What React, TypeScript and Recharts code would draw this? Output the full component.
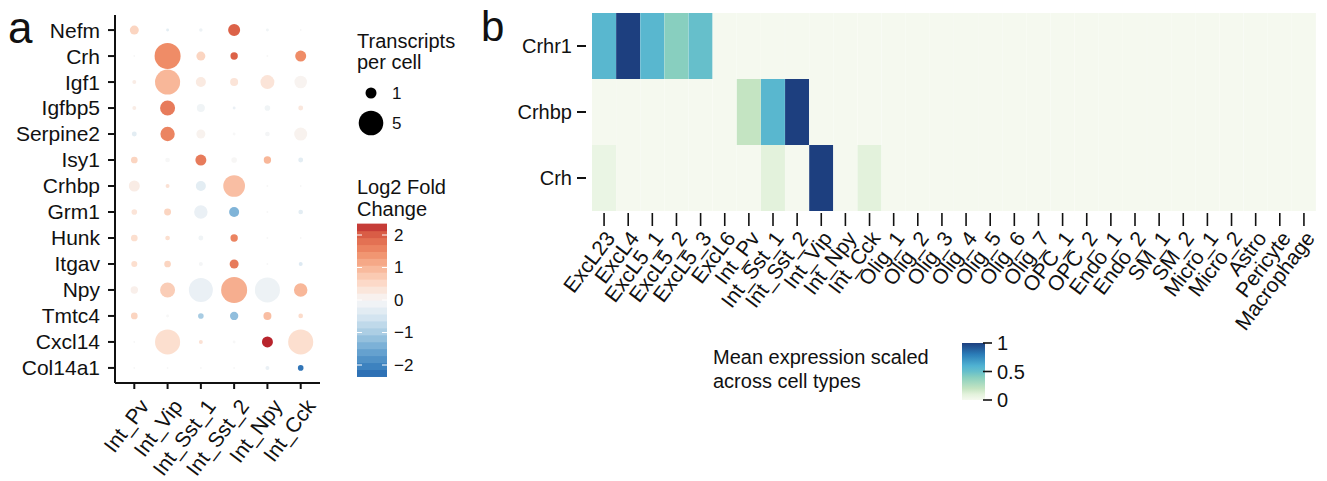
import React from "react";
import { ScatterChart, Scatter, XAxis, YAxis, ZAxis, Cell, BarChart, Bar } from "recharts";

// panel a: dot plot
const genes = ["Nefm", "Crh", "Igf1", "Igfbp5", "Serpine2", "Isy1", "Crhbp", "Grm1", "Hunk", "Itgav", "Npy", "Tmtc4", "Cxcl14", "Col14a1"];
const interneurons = ["Int_Pv", "Int_Vip", "Int_Sst_1", "Int_Sst_2", "Int_Npy", "Int_Cck"];

// transcripts per cell (dot size), rows follow genes, columns follow interneurons
const transcripts = [
  [0.67, 0.07, 0.1, 1.2, 0.07, 0.03],
  [0.03, 5.6, 0.67, 0.45, 0.03, 1.0],
  [0.13, 5.2, 0.83, 0.53, 1.6, 1.3],
  [0.13, 1.86, 0.53, 0.07, 0.26, 0.2],
  [0.2, 1.7, 0.67, 0.07, 0.18, 1.4],
  [0.37, 0.18, 1.0, 0.26, 0.45, 0.2],
  [1.0, 0.13, 0.83, 3.9, 0.03, 0.03],
  [0.26, 0.4, 1.5, 0.83, 0.03, 0.18],
  [0.37, 0.18, 0.2, 0.45, 0.03, 0.03],
  [0.3, 0.37, 0.13, 0.67, 0.03, 0.13],
  [0.45, 1.86, 4.76, 5.6, 5.2, 1.5],
  [0.37, 0.07, 0.26, 0.57, 0.53, 0.18],
  [0.03, 5.2, 0.13, 0.07, 1.0, 5.2],
  [0.03, 0.03, 0.03, 0.03, 0.13, 0.26],
];

// log2 fold change (dot colour)
const log2fc = [
  [0.6, -0.3, -0.15, 2.0, -0.1, 0],
  [0, 1.5, 0.6, 2.0, 0, 1.5],
  [0.2, 1.0, 0.25, 0.35, 0.35, 0.08],
  [0.2, 1.7, -0.1, -0.2, -0.1, 0.3],
  [-0.3, 1.6, 0.1, 0, -0.05, 0.1],
  [0.6, 0, 1.7, 0.02, 1.0, -0.3],
  [0.2, 0.4, -0.3, 0.9, 0, 0],
  [0.35, 0.6, -0.2, -1.35, 0, -0.3],
  [0.45, 0.45, -0.1, 1.6, 0, 0],
  [0.45, 0.6, -0.05, 1.7, 0, -0.4],
  [0.15, 0.7, -0.2, 1.1, -0.15, 1.0],
  [0.6, 0, -1.0, -1.2, 0.9, 0.5],
  [0, 0.45, 0.4, 0, 2.4, 0.45],
  [0, 0, 0, 0, -0.2, -2.2],
];

const sizeLegend = [1, 5];
const lfcTicks = [2, 1, 0, -1, -2];

// panel b: heatmap
const cellTypes = [
  "ExcL23", "ExcL4", "ExcL5_1", "ExcL5_2", "ExcL5_3", "ExcL6",
  "Int_Pv", "Int_Sst_1", "Int_Sst_2", "Int_Vip", "Int_Npy", "Int_Cck",
  "Olig_1", "Olig_2", "Olig_3", "Olig_4", "Olig_5", "Olig_6", "Olig_7",
  "OPC_1", "OPC_2", "Endo_1", "Endo_2", "SM_1", "SM_2",
  "Micro_1", "Micro_2", "Astro", "Pericyte", "Macrophage",
];
const heatGenes = ["Crhr1", "Crhbp", "Crh"];
const crhr1 = [0.56, 1, 0.56, 0.4, 0.5, 0, 0, 0, 0, 0, 0, 0, 0, 0, 0, 0, 0, 0, 0, 0, 0, 0, 0, 0, 0, 0, 0, 0, 0, 0];
const crhbp = [0, 0, 0, 0, 0, 0, 0.2, 0.56, 1, 0, 0, 0, 0, 0, 0, 0, 0, 0, 0, 0, 0, 0, 0, 0, 0, 0, 0, 0, 0, 0];
const crh = [0.06, 0, 0, 0, 0, 0, 0, 0.1, 0, 1, 0, 0.1, 0, 0, 0, 0, 0, 0, 0, 0, 0, 0, 0, 0, 0, 0, 0, 0, 0, 0];
const scaleTicks = [1, 0.5, 0];

const FONT = "Liberation Sans, Arial, Helvetica, sans-serif";
const LABEL_ANGLE = -53;

const rdbu: [number, string][] = [
  [-2.3, "#2a6db2"],
  [-2.0, "#3f84c0"],
  [-1.5, "#6fa9d3"],
  [-1.0, "#a8cce3"],
  [-0.5, "#d6e6f1"],
  [0, "#f7f7f7"],
  [0.5, "#fcdccb"],
  [1.0, "#f8b799"],
  [1.5, "#ef8c67"],
  [2.0, "#dc6248"],
  [2.4, "#b8242c"],
];
const gnbu: [number, string][] = [
  [0, "#f5f9ef"],
  [0.1, "#e3f2dc"],
  [0.2, "#c4e4c2"],
  [0.4, "#88cfbf"],
  [0.5, "#66bfcb"],
  [0.6, "#50b2d2"],
  [0.8, "#2b7db8"],
  [1, "#1d3f7f"],
];

function hex(c: string) {
  return [1, 3, 5].map((i) => parseInt(c.slice(i, i + 2), 16));
}

function ramp(stops: [number, string][], v: number) {
  if (v <= stops[0][0]) return stops[0][1];
  for (let i = 1; i < stops.length; i++) {
    if (v <= stops[i][0]) {
      const [a, ca] = stops[i - 1];
      const [b, cb] = stops[i];
      const t = (v - a) / (b - a);
      const x = hex(ca);
      const y = hex(cb);
      const m = x.map((p, k) => Math.round(p + (y[k] - p) * t));
      return `rgb(${m[0]},${m[1]},${m[2]})`;
    }
  }
  return stops[stops.length - 1][1];
}

const Z_MAX = 6;
const AREA_MAX = 570;
const dotRadius = (v: number) => Math.sqrt(((AREA_MAX / Z_MAX) * v) / Math.PI);

const dots = genes.flatMap((g, gi) =>
  interneurons.map((c, ci) => ({ x: ci, y: gi, z: transcripts[gi][ci], lfc: log2fc[gi][ci] }))
);

const heatData = cellTypes.map((t) => ({ type: t, Crh: 1, Crhbp: 1, Crhr1: 1 }));

function DotXTick(props: any) {
  const { x, y, payload } = props;
  const ax = x + 10;
  const ay = y + 11;
  return (
    <text x={ax} y={ay} transform={`rotate(${LABEL_ANGLE}, ${ax}, ${ay})`} textAnchor="end" dy="0.35em" fontSize={21} fill="#111" fontFamily={FONT}>
      {interneurons[payload.value]}
    </text>
  );
}

function HeatXTick(props: any) {
  const { x, y, payload } = props;
  const ax = x + 6;
  const ay = y + 23;
  return (
    <g>
      <line x1={x} x2={x} y1={y + 2} y2={y + 15} stroke="#111" strokeWidth={1.6} />
      <text x={ax} y={ay} transform={`rotate(${LABEL_ANGLE}, ${ax}, ${ay})`} textAnchor="end" dy="0.35em" fontSize={21} fill="#111" fontFamily={FONT}>
        {payload.value}
      </text>
    </g>
  );
}

function HeatYTick(props: any) {
  const { x, y, payload } = props;
  return (
    <g>
      <line x1={x - 15} x2={x - 6} y1={y} y2={y} stroke="#111" strokeWidth={2} />
      <text x={x - 20} y={y} dy="0.35em" textAnchor="end" fontSize={20} fill="#111" fontFamily={FONT}>
        {heatGenes[Math.floor(3 - payload.value)]}
      </text>
    </g>
  );
}

function Legends() {
  const unit = 32.5;
  const zeroY = 300;
  const nBands = 22;
  const lo = -2.35;
  const hi = 2.35;
  const step = (hi - lo) / nBands;
  const bands = Array.from({ length: nBands }, (_, i) => lo + step * (i + 0.5));
  const textProps = { fontFamily: FONT, fill: "#111" };
  return (
    <svg width={1327} height={481} style={{ position: "absolute", left: 0, top: 0, pointerEvents: "none" }}>
      <defs>
        <linearGradient id="gnbuBar" x1="0" y1="1" x2="0" y2="0">
          {gnbu.map(([v, c]) => (
            <stop key={v} offset={v} stopColor={c} />
          ))}
        </linearGradient>
      </defs>
      <text x={8} y={43} fontSize={44} {...textProps}>a</text>
      <text x={481} y={41} fontSize={42} {...textProps}>b</text>

      <text x={357} y={48} fontSize={20} {...textProps}>Transcripts</text>
      <text x={357} y={69} fontSize={20} {...textProps}>per cell</text>
      {sizeLegend.map((v, i) => (
        <g key={v}>
          <circle cx={371} cy={93 + i * 30} r={dotRadius(v)} fill="#000" />
          <text x={392} y={93 + i * 30} dy="0.35em" fontSize={17} {...textProps}>{v}</text>
        </g>
      ))}

      <text x={357} y={194} fontSize={20} {...textProps}>Log2 Fold</text>
      <text x={357} y={216} fontSize={20} {...textProps}>Change</text>
      {bands.map((v, i) => (
        <rect key={i} x={357} y={zeroY - (v + step / 2) * unit} width={30} height={step * unit + 0.6} fill={ramp(rdbu, v)} />
      ))}
      {lfcTicks.map((v) => (
        <g key={v}>
          <line x1={357} x2={362} y1={zeroY - v * unit} y2={zeroY - v * unit} stroke="#fff" strokeWidth={1} />
          <line x1={382} x2={387} y1={zeroY - v * unit} y2={zeroY - v * unit} stroke="#fff" strokeWidth={1} />
          <text x={394} y={zeroY - v * unit} dy="0.35em" fontSize={17} {...textProps}>
            {v < 0 ? `\u2212${Math.abs(v)}` : v}
          </text>
        </g>
      ))}

      <text x={713} y={364} fontSize={20} {...textProps}>Mean expression scaled</text>
      <text x={713} y={388} fontSize={20} {...textProps}>across cell types</text>
      <rect x={962} y={343} width={23} height={57} fill="url(#gnbuBar)" />
      {scaleTicks.map((v) => (
        <g key={v}>
          <line x1={983} x2={992} y1={400 - v * 57} y2={400 - v * 57} stroke="#111" strokeWidth={1.6} />
          <text x={997} y={400 - v * 57} dy="0.35em" fontSize={20} {...textProps}>{v}</text>
        </g>
      ))}
    </svg>
  );
}

export default function App() {
  return (
    <div style={{ position: "fixed", left: 0, top: 0, width: 1327, height: 481, background: "#fff", fontFamily: FONT }}>
      <div style={{ position: "absolute", left: 0, top: 0 }}>
        <ScatterChart width={330} height={481} margin={{ top: 15, right: 10, left: 0, bottom: 0 }}>
          <XAxis
            type="number"
            dataKey="x"
            domain={[-0.58, 5.58]}
            ticks={[0, 1, 2, 3, 4, 5]}
            interval={0}
            height={98}
            tickSize={6}
            tickMargin={2}
            axisLine={{ stroke: "#111", strokeWidth: 2 }}
            tickLine={{ stroke: "#111", strokeWidth: 2 }}
            tick={<DotXTick />}
          />
          <YAxis
            type="number"
            dataKey="y"
            reversed
            domain={[-0.58, 13.58]}
            ticks={genes.map((_, i) => i)}
            interval={0}
            width={115}
            tickSize={7}
            tickMargin={8}
            axisLine={{ stroke: "#111", strokeWidth: 2 }}
            tickLine={{ stroke: "#111", strokeWidth: 2 }}
            tick={{ fontSize: 21, fill: "#111", fontFamily: FONT }}
            tickFormatter={(v: number) => genes[v]}
          />
          <ZAxis type="number" dataKey="z" domain={[0, Z_MAX]} range={[0, AREA_MAX]} />
          <Scatter data={dots} isAnimationActive={false}>
            {dots.map((d, i) => (
              <Cell key={i} fill={ramp(rdbu, d.lfc)} />
            ))}
          </Scatter>
        </ScatterChart>
      </div>
      <div style={{ position: "absolute", left: 480, top: 0 }}>
        <BarChart width={847} height={481} data={heatData} margin={{ top: 13, right: 11, left: 0, bottom: 0 }} barCategoryGap={0} barGap={0}>
          <XAxis
            dataKey="type"
            interval={0}
            height={270}
            tickSize={0}
            tickMargin={0}
            axisLine={false}
            tickLine={false}
            tick={<HeatXTick />}
          />
          <YAxis
            type="number"
            domain={[0, 3]}
            ticks={[0.5, 1.5, 2.5]}
            width={112}
            tickSize={0}
            tickMargin={0}
            axisLine={false}
            tickLine={false}
            tick={<HeatYTick />}
          />
          <Bar dataKey="Crh" stackId="h" isAnimationActive={false}>
            {crh.map((v, i) => (
              <Cell key={i} fill={ramp(gnbu, v)} />
            ))}
          </Bar>
          <Bar dataKey="Crhbp" stackId="h" isAnimationActive={false}>
            {crhbp.map((v, i) => (
              <Cell key={i} fill={ramp(gnbu, v)} />
            ))}
          </Bar>
          <Bar dataKey="Crhr1" stackId="h" isAnimationActive={false}>
            {crhr1.map((v, i) => (
              <Cell key={i} fill={ramp(gnbu, v)} />
            ))}
          </Bar>
        </BarChart>
      </div>
      <Legends />
    </div>
  );
}
